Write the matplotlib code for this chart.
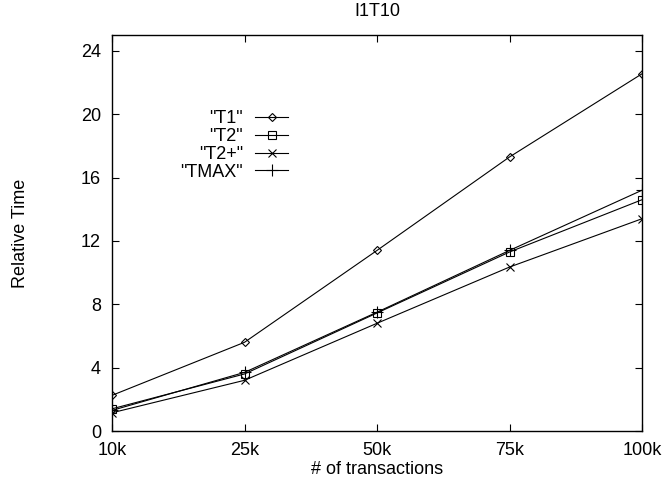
import matplotlib
matplotlib.use('Agg')
import matplotlib.pyplot as plt

plt.rcParams['font.family'] = ['Liberation Sans', 'DejaVu Sans']

categories = ['10k', '25k', '50k', '75k', '100k']
t1 = [2.25, 5.6, 11.4, 17.3, 22.55]
t2 = [1.4, 3.6, 7.45, 11.3, 14.6]
t2plus = [1.15, 3.2, 6.8, 10.35, 13.4]
tmax = [1.3, 3.7, 7.5, 11.4, 15.2]

series = [('"T1"', t1, 'D', 4.5), ('"T2"', t2, 's', 6),
          ('"T2+"', t2plus, 'x', 6), ('"TMAX"', tmax, '+', 8)]

fs = 13

fig = plt.figure(figsize=(6.66, 4.84), dpi=100)
ax = fig.add_axes([112 / 666, 1 - 431 / 484, 530 / 666, 396 / 484])

x = list(range(len(categories)))
for label, vals, m, ms in series:
    ax.plot(x, vals, color='black', linewidth=0.8, marker=m, markersize=ms,
            markerfacecolor='none', markeredgewidth=0.8, label=label)

ax.set_xlim(0, len(categories) - 1)
ax.set_ylim(0, 25)
ax.set_xticks(x)
ax.set_xticklabels(categories)
ax.set_yticks(range(0, 25, 4))
ax.tick_params(direction='in', top=True, right=True, length=5, width=0.8,
               labelsize=fs, pad=8)
for s in ax.spines.values():
    s.set_linewidth(1.0)

ax.set_title('I1T10', fontsize=fs, pad=14)
ax.set_xlabel('# of transactions', fontsize=fs, labelpad=1)
ax.set_ylabel('Relative Time', fontsize=fs, labelpad=37)

leg = ax.legend(loc='upper right', bbox_to_anchor=(297 / 666, 1 - 101 / 484),
                bbox_transform=fig.transFigure, frameon=False, markerfirst=False,
                fontsize=fs, handlelength=1.8, labelspacing=0.05, borderpad=0,
                handletextpad=0.7)
for t in leg.get_texts():
    t.set_ha('right')

fig.savefig('out.png', dpi=100)
